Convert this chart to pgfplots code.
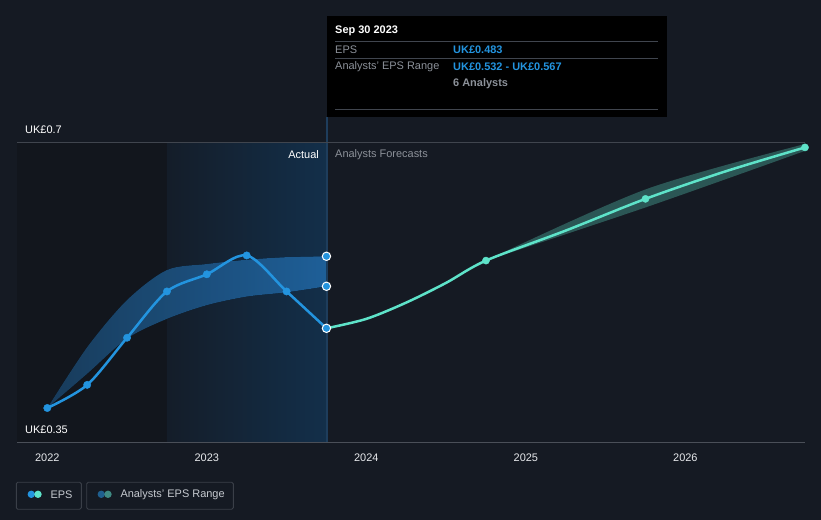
\documentclass[border=0pt]{standalone}
\usepackage{pgfplots}
\pgfplotsset{compat=1.18}
\usepgfplotslibrary{fillbetween}
\usepackage{fontspec}
\setmainfont{Liberation Sans}
\definecolor{bg}{HTML}{151A23}
\definecolor{darkreg}{HTML}{12161D}
\definecolor{hlL}{HTML}{141D29}
\definecolor{hlR}{HTML}{132F4A}
\definecolor{vline}{HTML}{1E3D5C}
\definecolor{gridc}{HTML}{262B34}
\definecolor{topgrid}{HTML}{40454E}
\definecolor{axisc}{HTML}{4A4F58}
\definecolor{tickc}{HTML}{E6E8EB}
\definecolor{grayt}{HTML}{8C9199}
\definecolor{epsblue}{HTML}{2394DF}
\definecolor{fc}{HTML}{5EE3C9}
\definecolor{bandL}{HTML}{1A3F60}
\definecolor{bandR}{HTML}{2064A0}
\definecolor{legtxt}{HTML}{C5C9CF}
\definecolor{legbox}{HTML}{3A3F48}
\definecolor{rngblue}{HTML}{1F5F8F}
\definecolor{rngteal}{HTML}{3F8A83}
\begin{document}
\begin{tikzpicture}
\fill[bg] (0,0) rectangle (821bp,520bp);
\fill[darkreg] (17bp,77.7bp) rectangle (166.9bp,377.7bp);
\shade[left color=hlL, right color=hlR] (166.9bp,77.7bp) rectangle (326.5bp,377.7bp);
\draw[vline, line width=2bp] (326.5bp,77.7bp) -- (326.5bp,403bp);
\begin{axis}[at={(17bp,77.7bp)}, anchor=south west, scale only axis,
  width=788bp, height=300bp,
  xmin=2021.81, xmax=2026.75, ymin=0.35, ymax=0.7, clip=false,
  axis line style={draw=none},
  xtick={2022,2023,2024,2025,2026},
  xticklabels={2022,2023,2024,2025,2026},
  xtick pos=bottom, xtick align=outside, major tick length=4bp,
  xtick style={color=axisc, line width=0.8bp},
  ytick={0.4,0.5,0.6}, yticklabels={}, ytick style={draw=none},
  ymajorgrids, grid style={color=gridc, line width=0.9bp},
  x tick label style={font=\fontsize{11}{13}\selectfont, text=tickc, yshift=-4bp},
  /pgf/number format/assume math mode=true]
\draw[axisc, line width=1bp] (rel axis cs:0,0) -- (rel axis cs:1,0);
\draw[topgrid, line width=1bp] (rel axis cs:0,1) -- (rel axis cs:1,1);
% actual analyst range band
\addplot[name path=aU, draw=none, smooth] coordinates {(2022.0,0.390)(2022.25,0.461)(2022.5,0.516)(2022.75,0.551)(2023.0,0.558)(2023.25,0.563)(2023.5,0.566)(2023.75,0.567)};
\addplot[name path=aL, draw=none, smooth] coordinates {(2022.0,0.390)(2022.25,0.430)(2022.5,0.471)(2022.75,0.494)(2023.0,0.510)(2023.25,0.520)(2023.5,0.525)(2023.75,0.532)};
\addplot[draw=none, left color=bandL, right color=bandR, opacity=0.95] fill between[of=aU and aL, on layer=main];
% forecast band
\addplot[name path=fU, draw=none, smooth] coordinates {(2024.75,0.562)(2025.75,0.645)(2026.75,0.698)};
\addplot[name path=fL, draw=none, smooth] coordinates {(2024.75,0.562)(2025.75,0.624)(2026.75,0.690)};
\addplot[fill=fc, fill opacity=0.3, draw=none] fill between[of=fU and fL, on layer=main];
% forecast line
\addplot[fc, line width=2.5bp, smooth] coordinates {(2023.75,0.483)(2024.0,0.494)(2024.25,0.513)(2024.5,0.536)(2024.75,0.562)(2025.25,0.597)(2025.75,0.634)(2026.25,0.666)(2026.75,0.694)};
\addplot[only marks, mark=*, mark size=3.6bp, fc, mark options={draw=fc, fill=fc}] coordinates {(2024.75,0.562)(2025.75,0.634)(2026.75,0.694)};
% actual EPS
\addplot[epsblue, line width=2.5bp, smooth] coordinates {(2022.0,0.390)(2022.25,0.417)(2022.5,0.472)(2022.75,0.526)(2023.0,0.546)(2023.25,0.568)(2023.5,0.526)(2023.75,0.483)};
\addplot[only marks, mark=*, mark size=3.7bp, mark options={draw=epsblue, fill=epsblue}] coordinates {(2022.0,0.390)(2022.25,0.417)(2022.5,0.472)(2022.75,0.526)(2023.0,0.546)(2023.25,0.568)(2023.5,0.526)};
\addplot[only marks, mark=*, mark size=4.2bp, mark options={draw=white, fill=epsblue, line width=1bp}] coordinates {(2023.75,0.483)(2023.75,0.532)(2023.75,0.567)};
\end{axis}
% y labels
\node[anchor=west, text=white, font=\fontsize{11}{13}\selectfont, inner sep=0] at (25bp,390bp) {UK£0.7};
\node[anchor=west, text=white, font=\fontsize{11}{13}\selectfont, inner sep=0] at (25bp,90bp) {UK£0.35};
\node[anchor=east, text=white, font=\fontsize{11}{13}\selectfont, inner sep=0] at (319bp,365bp) {Actual};
\node[anchor=west, text=grayt, font=\fontsize{11}{13}\selectfont, inner sep=0] at (335bp,365bp) {Analysts Forecasts};
% tooltip
\fill[black] (327bp,504bp) rectangle (667bp,403bp);
\draw[topgrid, line width=0.8bp] (335bp,479bp) -- (658bp,479bp);
\draw[topgrid, line width=0.8bp] (335bp,462bp) -- (658bp,462bp);
\draw[topgrid, line width=0.8bp] (335bp,411bp) -- (658bp,411bp);
\node[anchor=west, text=white, font=\fontsize{11}{13}\selectfont\bfseries, inner sep=0] at (335bp,489bp) {Sep 30 2023};
\node[anchor=west, text=grayt, font=\fontsize{11}{13}\selectfont, inner sep=0] at (335bp,470.5bp) {EPS};
\node[anchor=west, text=epsblue, font=\fontsize{11}{13}\selectfont\bfseries, inner sep=0] at (453bp,470.5bp) {UK£0.483};
\node[anchor=west, text=grayt, font=\fontsize{11}{13}\selectfont, inner sep=0] at (335bp,453.5bp) {Analysts' EPS Range};
\node[anchor=west, text=epsblue, font=\fontsize{11}{13}\selectfont\bfseries, inner sep=0] at (453bp,453.5bp) {UK£0.532 - UK£0.567};
\node[anchor=west, text=grayt, font=\fontsize{11}{13}\selectfont\bfseries, inner sep=0] at (453bp,436.5bp) {6 Analysts};
% legend
\draw[legbox, line width=0.9bp, rounded corners=1.5bp] (16.3bp,37.7bp) rectangle (81.3bp,10.7bp);
\draw[legbox, line width=0.9bp, rounded corners=1.5bp] (86.7bp,37.7bp) rectangle (233.3bp,10.7bp);
\fill[epsblue] (31.3bp,25.7bp) circle (3.7bp);
\fill[fc] (38bp,25.7bp) circle (3.7bp);
\fill[rngblue] (101.3bp,25.7bp) circle (3.7bp);
\fill[rngteal] (108bp,25.7bp) circle (3.7bp);
\node[anchor=west, text=legtxt, font=\fontsize{11}{13}\selectfont, inner sep=0] at (50.3bp,25.7bp) {EPS};
\node[anchor=west, text=legtxt, font=\fontsize{11}{13}\selectfont, inner sep=0] at (120.3bp,25.7bp) {Analysts' EPS Range};
\end{tikzpicture}
\end{document}
